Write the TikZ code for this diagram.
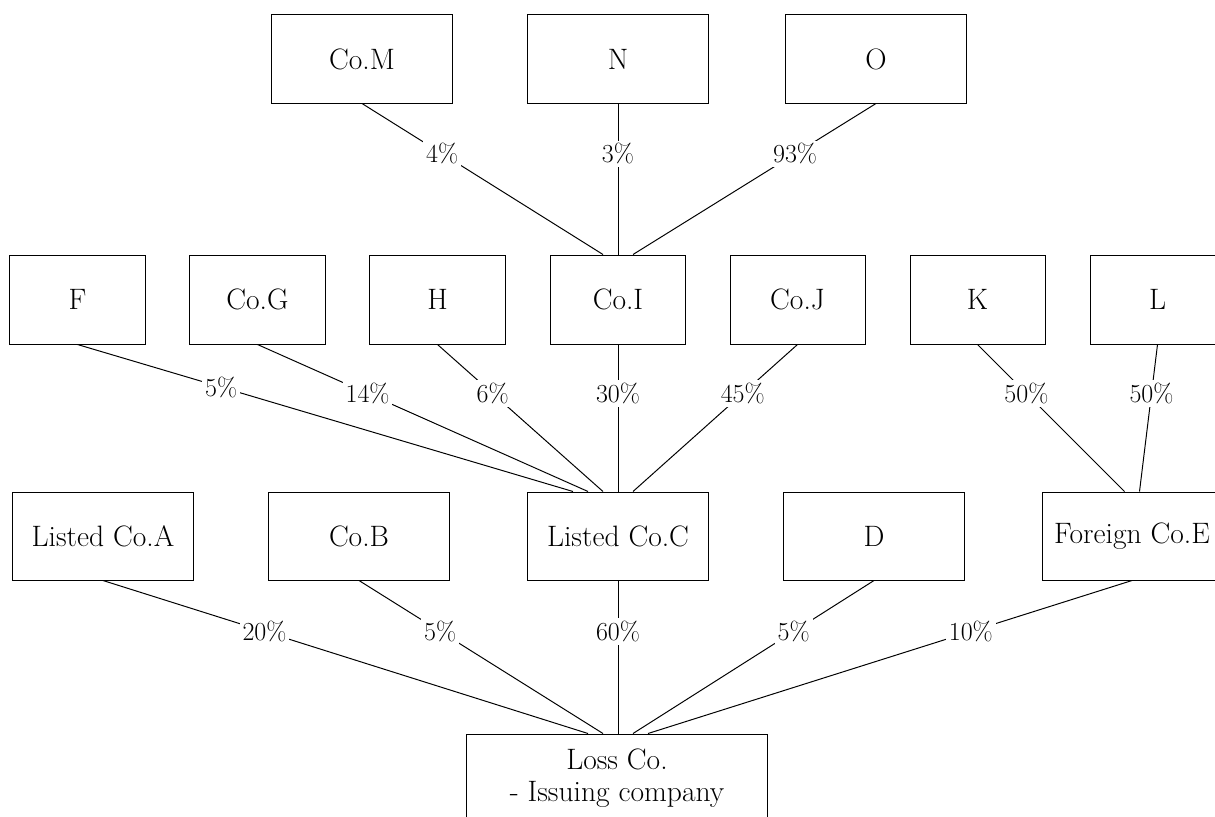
\documentclass[tikz,border=0pt]{standalone}
\usepackage{tikz}
\begin{document}
\begin{tikzpicture}[x=0.025cm,y=-0.025cm,line width=0.7pt,
	font=\fontsize{18.5}{23}\selectfont,
	co/.style={draw,minimum width=4.5cm,minimum height=2.2cm,inner sep=0pt,font=\fontsize{21}{23}\selectfont},
	sub/.style={co,minimum width=3.375cm,minimum height=2.225cm},
	pct/.style={pos=0.333,fill=white,inner sep=2pt}]
	\useasboundingbox (0,0) rectangle (1215,816);
	% top row
	\node[co] (M) at (362,59) {Co.M};
	\node[co] (N) at (618,59) {N};
	\node[co] (O) at (876,59) {O};
	% middle row
	\node[sub] (F) at (77.5,299.5) {F};
	\node[sub] (G) at (257.5,299.5) {Co.G};
	\node[sub] (H) at (437.5,299.5) {H};
	\node[sub] (I) at (618,299.5) {Co.I};
	\node[sub] (J) at (797.5,299.5) {Co.J};
	\node[sub] (K) at (977.5,299.5) {K};
	\node[sub] (L) at (1157.5,299.5) {L};
	% lower row
	\node[co] (A) at (103,536) {Listed Co.A};
	\node[co] (B) at (359,536) {Co.B};
	\node[co] (C) at (618,536) {Listed Co.C};
	\node[co] (D) at (874,536) {D};
	\node[co] (E) at (1132,536) {Foreign Co.E};
	\node[co,minimum width=7.5cm,align=center,font=\fontsize{21}{23}\selectfont] (loss) at (617,778) {Loss Co.\\- Issuing company};

	\draw (M.south) -- ([xshift=-0.375cm]I.north) node[pct] {4\%};
	\draw (N.south) -- (I.north) node[pct] {3\%};
	\draw (O.south) -- ([xshift=0.375cm]I.north) node[pct] {93\%};

	\draw (F.south) -- ([xshift=-1.125cm]C.north) node[pct,pos=0.29] {5\%};
	\draw (G.south) -- ([xshift=-0.75cm]C.north) node[pct] {14\%};
	\draw (H.south) -- ([xshift=-0.375cm]C.north) node[pct] {6\%};
	\draw (I.south) -- (C.north) node[pct] {30\%};
	\draw (J.south) -- ([xshift=0.375cm]C.north) node[pct] {45\%};
	\draw (K.south) -- ([xshift=-0.1875cm]E.north) node[pct] {50\%};
	\draw (L.south) -- ([xshift=0.1875cm]E.north) node[pct] {50\%};

	\draw (A.south) -- ([xshift=-0.725cm]loss.north) node[pct] {20\%};
	\draw (B.south) -- ([xshift=-0.35cm]loss.north) node[pct] {5\%};
	\draw (C.south) -- ([xshift=0.025cm]loss.north) node[pct] {60\%};
	\draw (D.south) -- ([xshift=0.4cm]loss.north) node[pct] {5\%};
	\draw (E.south) -- ([xshift=0.775cm]loss.north) node[pct] {10\%};
\end{tikzpicture}
\end{document}
